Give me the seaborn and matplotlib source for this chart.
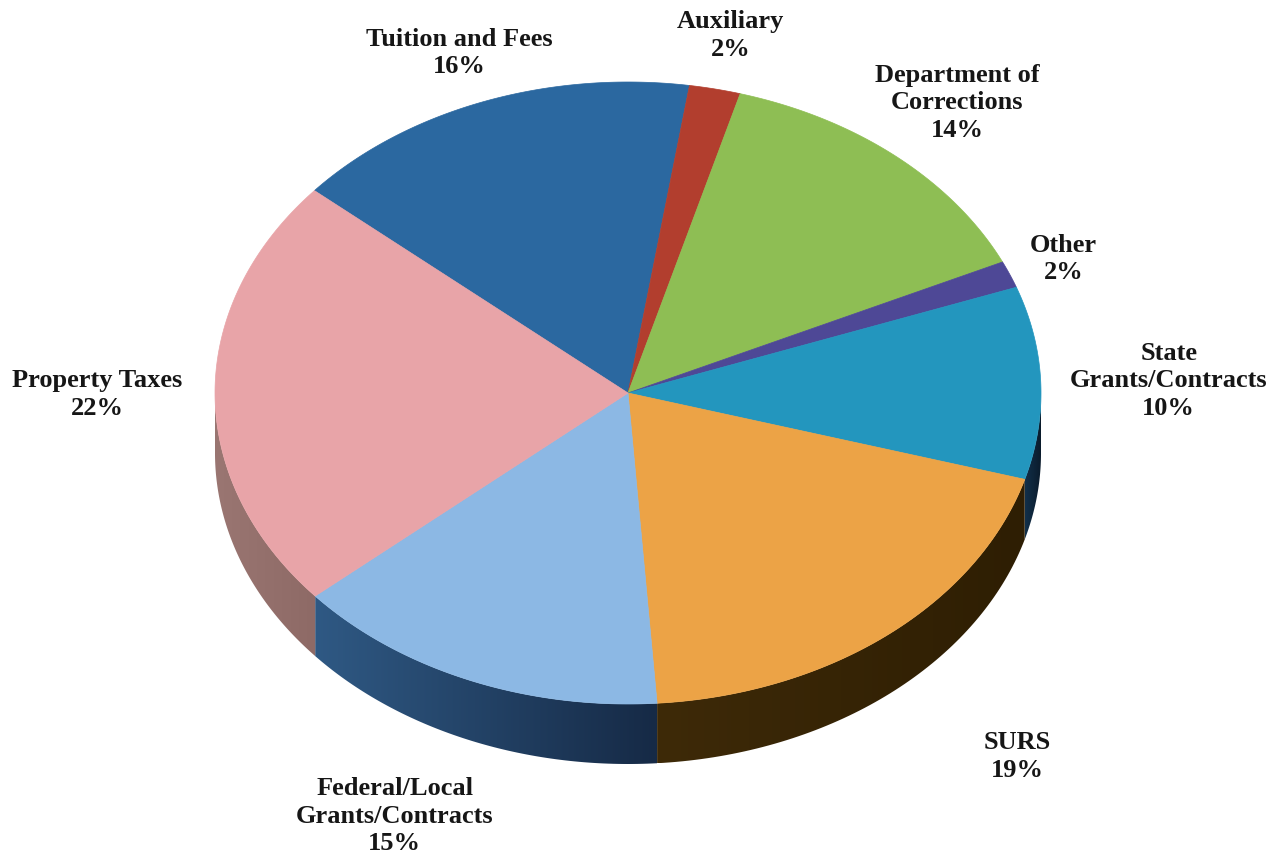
import numpy as np
import seaborn as sns
import matplotlib.pyplot as plt
from matplotlib.patches import Polygon
from matplotlib.colors import to_rgb

sns.set_theme(style="white")
plt.rcParams["font.family"] = ["Liberation Serif", "DejaVu Serif"]

# slices in clockwise order, starting with Tuition and Fees
categories = ["Tuition and Fees", "Auxiliary", "Department of\nCorrections", "Other",
              "State\nGrants/Contracts", "SURS", "Federal/Local\nGrants/Contracts", "Property Taxes"]
values = [16.1, 2.0, 13.7, 1.4, 10.0, 19.4, 14.8, 22.6]
pct_labels = [16, 2, 14, 2, 10, 19, 15, 22]
colors = ["#2B68A0", "#B23E2E", "#8EBE54", "#4E4896", "#2396BE", "#ECA346", "#8CB8E4", "#E8A4A8"]
# side wall colours (left -> right), only the front slices show them
side_left = ["#1E4A74", "#7A2A20", "#5E8A38", "#33305F", "#12304A", "#3E2A08", "#2F5984", "#9A7672"]
side_right = ["#163858", "#5A1E16", "#46682A", "#242245", "#0A1A2A", "#2E1E03", "#162A46", "#8E6A66"]
label_dist = [1.17, 1.18, 1.23, 1.14, 1.31, 1.50, 1.47, 1.285]

# geometry of the tilted pie (pixels)
cx, cy = 628, 394
a, b = 413, 311
depth = 60
start = 139.4

fig = plt.figure(figsize=(12.88, 8.62), dpi=100)
ax = fig.add_axes([0, 0, 1, 1])

spans = np.array(values) / sum(values) * 360
hi = start - np.concatenate([[0], np.cumsum(spans)[:-1]])
lo = hi - spans

# side wall (front half only)
for h, l, cl, cr in zip(hi, lo, side_left, side_right):
    s, e = max(l, -180), min(h, 0)
    if s >= e:
        continue
    tt = np.radians(np.linspace(s, e, 80))
    xs = cx + a * np.cos(tt)
    ys = cy - b * np.sin(tt)
    pts = np.column_stack([np.concatenate([xs, xs[::-1]]),
                           np.concatenate([ys, ys[::-1] + depth])])
    poly = Polygon(pts, closed=True, facecolor="none", edgecolor="none")
    ax.add_patch(poly)
    frac = np.linspace(0, 1, 200)
    grad = (1 - frac)[:, None] * np.array(to_rgb(cl)) + frac[:, None] * np.array(to_rgb(cr))
    im = ax.imshow(grad[None, :, :], extent=[xs.min(), xs.max(), ys.max() + depth, ys.min()],
                   aspect="auto", interpolation="bilinear")
    im.set_clip_path(poly)

# top face
for h, l, c in zip(hi, lo, colors):
    tt = np.radians(np.linspace(l, h, 100))
    px = np.concatenate([[cx], cx + a * np.cos(tt)])
    py = np.concatenate([[cy], cy - b * np.sin(tt)])
    ax.fill(px, py, color=c, lw=0.5, ec=c)

# labels
for h, l, cat, p, r in zip(hi, lo, categories, pct_labels, label_dist):
    m = np.radians((h + l) / 2)
    x = cx + a * r * np.cos(m)
    y = cy - b * r * np.sin(m)
    ax.text(x, y, f"{cat}\n{p}%", ha="center", va="center", fontsize=19,
            fontweight="bold", color="#161616", linespacing=1.25)

ax.set_xlim(0, 1288)
ax.set_ylim(862, 0)
ax.axis("off")

fig.savefig("out.png", dpi=100)
